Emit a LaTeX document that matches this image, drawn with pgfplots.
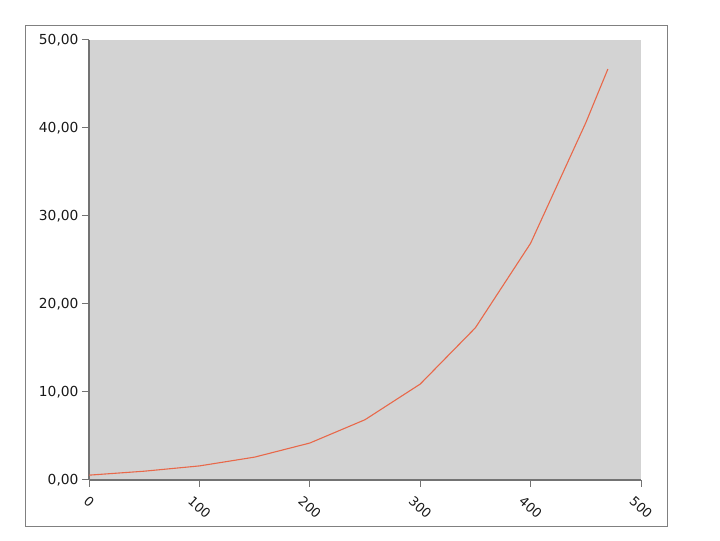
\documentclass[border=0pt]{standalone}
\usepackage{fontspec}
\setmainfont{DejaVu Sans}
\usepackage{pgfplots}
\pgfplotsset{compat=1.18}
\usepackage{graphicx}

\definecolor{plotgray}{RGB}{211,211,211}
\definecolor{axisgray}{RGB}{115,115,115}
\definecolor{framegray}{RGB}{128,128,128}
\definecolor{curve}{RGB}{232,104,74}

\begin{document}
\begin{tikzpicture}
\begin{axis}[
    scale only axis,
    width=552pt, height=440pt,
    xmin=0, xmax=500,
    ymin=0, ymax=50,
    xtick={0,100,...,500},
    ytick={0,10,...,50},
    axis lines*=left,
    axis background/.style={fill=plotgray},
    axis line style={draw=axisgray, line width=1.4pt},
    tick align=outside,
    major tick length=7pt,
    tick style={draw=axisgray, line width=1pt},
    /pgf/number format/assume math mode=true,
    yticklabel style={
        font=\fontsize{13.8}{15}\selectfont, text=black!90,
        /pgf/number format/.cd, fixed, fixed zerofill, precision=2, use comma,
    },
    xticklabel={\rotatebox{-42}{\pgfmathprintnumber[assume math mode=true]{\tick}}},
    xticklabel style={
        font=\fontsize{13}{14}\selectfont, text=black!90, anchor=north, yshift=-5pt,
    },
    clip=false,
]
\coordinate (SW) at (rel axis cs:0,0);
\coordinate (NE) at (rel axis cs:1,1);

\addplot [color=curve, line width=1.1pt] coordinates {
    (0,0.55) (50,1.0) (100,1.6) (150,2.6) (200,4.2) (250,6.85)
    (300,10.9) (350,17.3) (400,26.9) (450,40.6) (470,46.7)
};

\end{axis}
% outer frame and page size
\draw[framegray, line width=1.5pt] ([shift={(-63.5pt,-46.7pt)}]SW) rectangle ([shift={(26.7pt,14.5pt)}]NE);
\path ([shift={(-89pt,-61pt)}]SW) rectangle ([shift={(79pt,40pt)}]NE);
\end{tikzpicture}
\end{document}
